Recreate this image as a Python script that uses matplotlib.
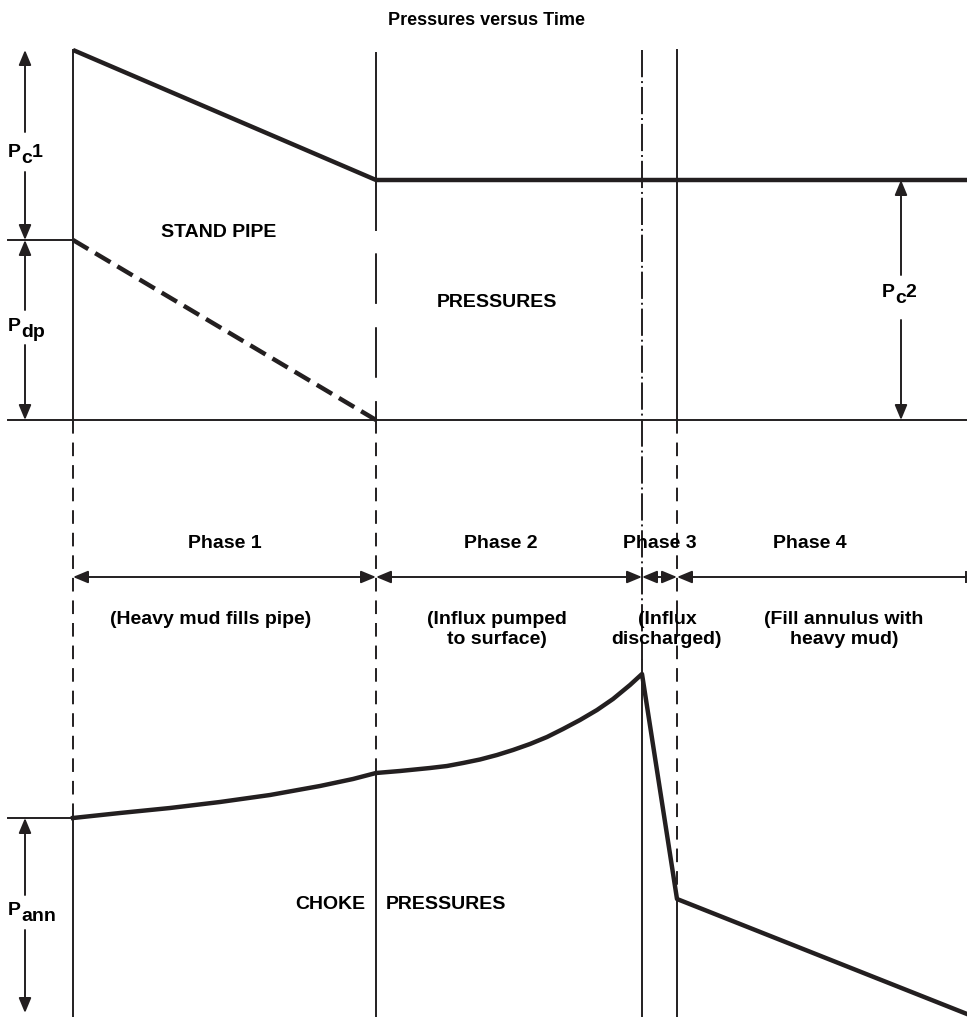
import numpy as np
import matplotlib
matplotlib.use('Agg')
import matplotlib.pyplot as plt

# ---- data (time and pressure in arbitrary schematic units) ----
phase_names = ['Phase 1', 'Phase 2', 'Phase 3', 'Phase 4']
phase_notes = ['(Heavy mud fills pipe)', '(Influx pumped\nto surface)',
               '(Influx\ndischarged)', '(Fill annulus with\nheavy mud)']
phase_edges = [0, 303, 569, 604, 894]

sp_time = [0, 303, 894]
sp_pressure = [370, 240, 240]          # stand pipe pressure
dp_time = [0, 303]
dp_pressure = [180, 0]                 # dynamic (drill pipe) pressure

choke_time = [0, 47, 97, 147, 197, 247, 280, 303,
              327, 357, 374, 390, 407, 424, 440, 457, 474, 490,
              507, 524, 540, 557, 569, 604, 894]
choke_pressure = [192, 197, 202, 208, 215, 224, 231, 237,
                  239, 242, 244, 247, 250.5, 255, 260, 266, 273, 281,
                  290, 300, 311, 325, 336, 111, -4]

# ---- style ----
ink = '#231f20'
thin = 1.4
thick = 3.2
choke_base = -590                      # choke panel sits below the stand pipe panel

plt.rcParams.update({
    'font.family': 'Liberation Sans',
    'font.weight': 'bold',
    'font.size': 14,
})

fig = plt.figure(figsize=(9.67, 10.17), dpi=100)
ax = fig.add_axes([0, 0, 1, 1])
ax.set_xlim(-73, 894)
ax.set_ylim(-597, 420)
ax.axis('off')

ck = np.array(choke_pressure) + choke_base
t0, t1, t2, t3, t_end = phase_edges
top = sp_pressure[0]
bottom = choke_base - 7

# baseline and reference ticks
ax.plot([-65, t_end], [0, 0], color=ink, lw=thin)
ax.plot([-65, t0], [dp_pressure[0]] * 2, color=ink, lw=thin)
ax.plot([-65, t0], [ck[0]] * 2, color=ink, lw=thin)

short_dash = (0, (7, 4.6))
long_dash = (26, (26, 12))
dash_dot = (0, (14, 2, 1, 2))

# vertical phase boundaries
ax.plot([t0, t0], [top, 0], color=ink, lw=thin)
ax.plot([t0, t0], [0, ck[0]], color=ink, lw=thin, ls=short_dash)
ax.plot([t0, t0], [ck[0], bottom], color=ink, lw=thin)

ax.plot([t1, t1], [top - 3, 190], color=ink, lw=thin)
ax.plot([t1, t1], [190, 0], color=ink, lw=thin, ls=long_dash)
ax.plot([t1, t1], [0, ck[7]], color=ink, lw=thin, ls=short_dash)
ax.plot([t1, t1], [ck[7], bottom], color=ink, lw=thin)

ax.plot([t2, t2], [top, choke_base + 350], color=ink, lw=thin, ls=dash_dot)
ax.plot([t2, t2], [choke_base + 350, bottom], color=ink, lw=thin)

ax.plot([t3, t3], [top, 0], color=ink, lw=thin)
ax.plot([t3, t3], [0, ck[-2]], color=ink, lw=thin, ls=short_dash)
ax.plot([t3, t3], [ck[-2], bottom], color=ink, lw=thin)

# pressure curves
ax.plot(sp_time, sp_pressure, color=ink, lw=thick, solid_capstyle='butt')
ax.plot(dp_time, dp_pressure, color=ink, lw=thick, ls=(0, (4, 1.8)))
ax.plot(choke_time, ck, color=ink, lw=thick, solid_joinstyle='round')


def arrow(x0, y0, x1, y1, style='-|>'):
    ax.annotate('', xy=(x1, y1), xytext=(x0, y0),
                arrowprops=dict(arrowstyle=style + ',head_length=0.6,head_width=0.25',
                                mutation_scale=15, color=ink, lw=thin,
                                shrinkA=0, shrinkB=0))


def sub_label(x, y, main, sub, tail=''):
    # subscripts in the source are full size, just dropped a few points
    t = ax.text(x, y, main, ha='left', va='baseline')
    s = ax.annotate(sub, xy=(1, 0), xycoords=t, xytext=(0, -4.5),
                    textcoords='offset points', ha='left', va='bottom')
    if tail:
        ax.annotate(tail, xy=(1, 0), xycoords=s, xytext=(0, 4.5),
                    textcoords='offset points', ha='left', va='bottom')


# pressure span arrows
xa = -48
arrow(xa, 288, xa, top)
arrow(xa, 248, xa, dp_pressure[0])
arrow(xa, 110, xa, dp_pressure[0])
arrow(xa, 75, xa, 0)
arrow(xa, choke_base + 115, xa, ck[0])
arrow(xa, choke_base + 80, xa, choke_base - 3)
xb = 828
arrow(xb, 145, xb, sp_pressure[-1])
arrow(xb, 100, xb, 0)

sub_label(-65, 263, 'P', 'c', '1')
sub_label(-65, 89, 'P', 'dp')
sub_label(-65, choke_base + 95, 'P', 'ann')
sub_label(809, 123, 'P', 'c', '2')

# phase spans
y_arrow = -157
for i, name in enumerate(phase_names):
    a, b = phase_edges[i], phase_edges[i + 1]
    if i < len(phase_names) - 1:
        arrow(a, y_arrow, b, y_arrow, style='<|-|>')
    else:
        arrow(b, y_arrow, a, y_arrow)
        ax.plot([b - 1, b - 1], [y_arrow - 5, y_arrow + 5], color=ink, lw=thin)

label_x = [152, 428, 587, 737]
note_x = [138, 424, 594, 771]
for name, note, lx, nx in zip(phase_names, phase_notes, label_x, note_x):
    ax.text(lx, -128, name, ha='center', va='baseline')
    ax.text(nx, -191, note, ha='center', va='top', linespacing=1.2)

ax.text(414, 395, 'Pressures versus Time', ha='center', va='baseline', fontsize=13)
ax.text(146, 183, 'STAND PIPE', ha='center', va='baseline')
ax.text(424, 113, 'PRESSURES', ha='center', va='baseline')
ax.text(292, choke_base + 101, 'CHOKE', ha='right', va='baseline')
ax.text(313, choke_base + 101, 'PRESSURES', ha='left', va='baseline')

fig.savefig('out.png', dpi=100)
